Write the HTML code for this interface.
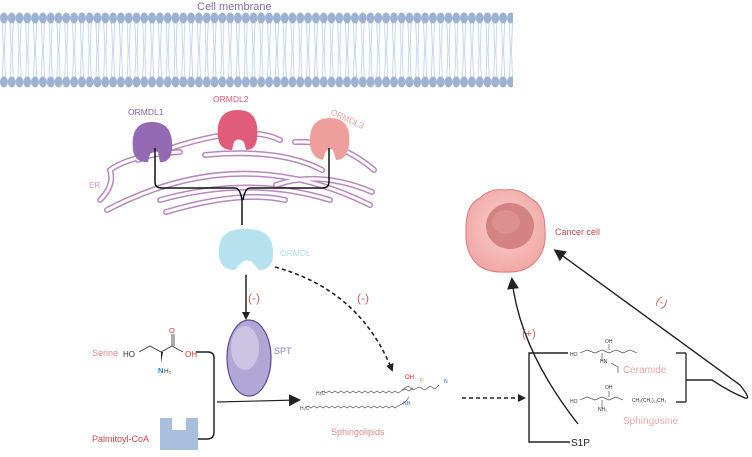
<!DOCTYPE html>
<html><head><meta charset="utf-8"><style>
html,body{margin:0;padding:0;background:#fff;}
svg{display:block;font-family:"Liberation Sans",sans-serif;}
</style></head><body>
<svg width="752" height="457" viewBox="0 0 752 457" xmlns="http://www.w3.org/2000/svg">
<defs>
<pattern id="headsT" x="0" y="12" width="7.8" height="12" patternUnits="userSpaceOnUse">
<ellipse cx="3.9" cy="6" rx="3.9" ry="5.5" fill="#9db1d2"/>
</pattern>
<pattern id="headsB" x="0" y="76" width="7.8" height="12" patternUnits="userSpaceOnUse">
<ellipse cx="3.9" cy="6" rx="3.9" ry="5.5" fill="#9db1d2"/>
</pattern>
<pattern id="tails" x="0" y="22" width="7.8" height="28" patternUnits="userSpaceOnUse">
<path d="M2.3 0 L3.4 28 M5.5 0 L4.4 28" stroke="#b9cdeb" stroke-width="0.8" fill="none"/>
</pattern>
<pattern id="tails2" x="0" y="50" width="7.8" height="28" patternUnits="userSpaceOnUse">
<path d="M3.4 0 L2.3 28 M4.4 0 L5.5 28" stroke="#b9cdeb" stroke-width="0.8" fill="none"/>
</pattern>
<marker id="ah" markerWidth="8" markerHeight="8" refX="6" refY="4" orient="auto" markerUnits="userSpaceOnUse">
<path d="M0 0 L8 4 L0 8 z" fill="#222"/>
</marker>
<marker id="ah2" markerWidth="12" markerHeight="12" refX="9" refY="6" orient="auto" markerUnits="userSpaceOnUse">
<path d="M0 0 L12 6 L0 12 z" fill="#222"/>
</marker>
<radialGradient id="cg" cx="50%" cy="45%" r="55%">
<stop offset="0" stroke="none" stop-color="#fbd0cc"/><stop offset="1" stop-color="#f1a9a6"/>
</radialGradient>
</defs>

<!-- membrane -->
<rect x="0" y="22" width="513" height="28" fill="url(#tails)"/>
<rect x="0" y="50" width="513" height="28" fill="url(#tails2)"/>
<rect x="0" y="12" width="513" height="12" fill="url(#headsT)"/>
<rect x="0" y="76" width="513" height="12" fill="url(#headsB)"/>
<text x="197" y="10" font-size="11" fill="#8a6bb0">Cell  membrane</text>

<!-- ER -->
<g fill="none" stroke-linecap="round">
<g stroke="#b988be" stroke-width="6">
<path d="M138 160 Q240 120 280 140"/>
<path d="M100 200 Q115 185 110 170 Q130 155 180 152"/>
<path d="M107 210 Q240 140 370 205"/>
<path d="M160 200 Q250 175 330 200"/>
<path d="M295 142 Q340 140 374 170"/>
<path d="M205 155 Q280 148 322 170"/>
<path d="M276 185 Q320 170 372 192"/>
<path d="M166 212 Q240 190 285 200"/>
</g>
<g stroke="#fff" stroke-width="3">
<path d="M138 160 Q240 120 280 140"/>
<path d="M100 200 Q115 185 110 170 Q130 155 180 152"/>
<path d="M107 210 Q240 140 370 205"/>
<path d="M160 200 Q250 175 330 200"/>
<path d="M295 142 Q340 140 374 170"/>
<path d="M205 155 Q280 148 322 170"/>
<path d="M276 185 Q320 170 372 192"/>
<path d="M166 212 Q240 190 285 200"/>
</g>
</g>
<text x="89" y="188" font-size="8" fill="#c99bc9">ER</text>

<!-- ORMDL proteins -->
<path d="M133 150 Q130 122 152 122 Q174 122 172 150 Q170 163 160 162 L158 152 Q153 150 150 154 L148 162 Q135 163 133 150z" fill="#936ab3"/>
<path d="M218 138 Q215 110 238 110 Q260 110 257 138 Q256 150 246 150 L244 142 Q238 137 234 142 L232 150 Q220 150 218 138z" fill="#e05c78"/>
<path d="M310 145 Q308 118 330 118 Q352 118 349 145 Q347 160 336 160 L333 150 Q328 148 325 153 L323 160 Q312 158 310 145z" fill="#ee9f9b"/>
<text x="128" y="115" font-size="8.5" fill="#8a5fb0">ORMDL1</text>
<text x="213" y="102" font-size="8.5" fill="#e05c78">ORMDL2</text>
<text x="330" y="114" font-size="8.5" fill="#ee9f9b" transform="rotate(25 330 114)">ORMDL3</text>

<!-- connectors to ORMDL -->
<path d="M155 148 L155 182 Q155 188 162 188 L235 188 Q240 188 242 200 L242 225 M329 148 L329 182 Q329 188 322 188 L250 188 Q245 188 243 200" fill="none" stroke="#111" stroke-width="1.5"/>

<!-- ORMDL cyan -->
<path d="M219 256 Q216 228 246 229 Q275 228 273 256 Q272 270 259 270 L252 262 Q247 259 242 262 L235 270 Q221 270 219 256z" fill="#b6e2ef"/>
<text x="280" y="256" font-size="8.5" fill="#a9dfea">ORMDL</text>

<!-- arrows -->
<line x1="246" y1="275" x2="246" y2="318" stroke="#222" stroke-width="1.5" marker-end="url(#ah)"/>
<text x="248" y="302" font-size="12" fill="#d06060">(-)</text>
<path d="M275 267 Q360 290 392 370" fill="none" stroke="#222" stroke-width="1.6" stroke-dasharray="4,3" marker-end="url(#ah)"/>
<text x="357" y="302" font-size="12" fill="#d06060">(-)</text>

<!-- SPT -->
<ellipse cx="249" cy="358" rx="22" ry="38" fill="#b1a7d4" stroke="#5a4a9a" stroke-width="1.2"/>
<ellipse cx="245" cy="348" rx="14" ry="22" fill="#cbc4e2"/>
<text x="274" y="354" font-size="9" fill="#8c7cc6">SPT</text>

<!-- Serine -->
<text x="92" y="356" font-size="9" fill="#e08a8a">Serine</text>
<text x="123" y="357" font-size="8" fill="#333">HO</text>
<path d="M139 352 L150 346 L161 352 L172 346 L183 352 M172 346 L172 334 M174 346 L174 334" stroke="#333" stroke-width="0.8" fill="none"/>
<path d="M161 352 L161 363 L163 352z" fill="#222"/>
<text x="169" y="333" font-size="7.5" fill="#d33">O</text>
<text x="185" y="357" font-size="8" fill="#d33">OH</text>
<text x="158" y="373" font-size="7.5" fill="#1a7fcf" font-weight="bold">N</text><text x="164" y="373" font-size="6.5" fill="#333">H₂</text>
<path d="M196 352 L208 352 Q214 352 214 358 L214 432 Q214 439 207 439 L198 439" fill="none" stroke="#222" stroke-width="1.5"/>

<!-- Palmitoyl-CoA -->
<text x="92" y="442" font-size="9" fill="#c84a4a">Palmitoyl-CoA</text>
<path d="M160 418 L172 418 L172 430 L186 430 L186 418 L198 418 L198 450 L160 450z" fill="#a9bedd"/>
<line x1="217" y1="402" x2="298" y2="400" stroke="#222" stroke-width="1.2" marker-end="url(#ah2)"/>

<!-- Sphingolipids -->
<g stroke="#444" stroke-width="0.6" fill="none">
<path d="M320 393 l3 -2 l3 2 l3 -2 l3 2 l3 -2 l3 2 l3 -2 l3 2 l3 -2 l3 2 l3 -2 l3 2 l3 -2 l3 2 l3 -2 l3 2 l3 -2 l3 2 l3 -2 l3 2 l3 -2 l3 2 l3 -2 l3 2 l3 -2 l3 2 l3 -2 l4 -2 l4 2 l4 -3"/>
<path d="M305 408 l3 -2 l3 2 l3 -2 l3 2 l3 -2 l3 2 l3 -2 l3 2 l3 -2 l3 2 l3 -2 l3 2 l3 -2 l3 2 l3 -2 l3 2 l3 -2 l3 2 l3 -2 l3 2 l3 -2 l3 2 l3 -2 l3 2 l3 -2 l3 2 l3 -2 l3 2 l3 -2 l3 2 l3 -2 l4 -2 l4 -3 l3 -4"/>
<path d="M402 390 l6 -4 l5 4 l6 -3 l6 3 l5 -4 l5 3 l4 -4"/>
</g>
<text x="316" y="395" font-size="5" fill="#444">H₃C</text>
<text x="300" y="410" font-size="5" fill="#444">H₃C</text>
<text x="405" y="379" font-size="6" fill="#d22">OH</text>
<text x="420" y="382" font-size="5.5" fill="#e69a3a">P</text>
<text x="444" y="383" font-size="5" fill="#36c">N</text>
<text x="403" y="405" font-size="5" fill="#36c">NH</text>
<text x="331" y="435" font-size="9" fill="#e08a8a">Sphingolipids</text>
<line x1="462" y1="398" x2="524" y2="398" stroke="#222" stroke-width="1.6" stroke-dasharray="4,3" marker-end="url(#ah)"/>

<!-- bracket -->
<path d="M568 353 L529 353 L529 442 L570 442" fill="none" stroke="#222" stroke-width="1.4"/>
<text x="571" y="446" font-size="10" fill="#222">S1P</text>
<path d="M578 424 Q520 350 512 280" fill="none" stroke="#222" stroke-width="1.4" marker-end="url(#ah2)"/>
<text x="522" y="337" font-size="11" fill="#d06060">(+)</text>

<!-- structures -->
<g stroke="#333" stroke-width="0.6" fill="none">
<path d="M580 353 l7 -3 l8 3 l7 -3 l7 3 l7 -3 l7 3 l7 -3 l7 3 M602 353 l0 8 M609 350 l0 -6 M611 363 l7 4 l0 6"/>
<path d="M580 400 l7 -3 l8 3 l7 -3 l7 3 l7 -3 l7 3 M602 400 l0 8 M609 397 l0 -6"/>
</g>
<text x="570" y="356" font-size="5" fill="#333">HO</text>
<text x="605" y="343" font-size="5" fill="#333">OH</text>
<text x="600" y="363" font-size="5" fill="#333">HN</text>
<text x="570" y="403" font-size="5" fill="#333">HO</text>
<text x="605" y="389" font-size="5" fill="#333">OH</text>
<text x="632" y="402" font-size="5" fill="#333">CH₂(CH₂)₁₁CH₃</text>
<text x="598" y="411" font-size="5" fill="#333">NH₂</text>
<text x="623" y="373" font-size="10" fill="#f0a8a8">Ceramide</text>
<text x="623" y="424" font-size="10" fill="#f0a8a8">Sphingosine</text>
<path d="M686 353 L686 402 M676 353 L686 353 M676 402 L686 402" fill="none" stroke="#333" stroke-width="1.4"/>
<path d="M686 380 L712 380 Q730 392 745 398 Q752 400 740 385 L556 251" fill="none" stroke="#222" stroke-width="1.4" marker-end="url(#ah2)"/>
<text x="656" y="306" font-size="11" fill="#d06060" transform="rotate(30 662 303)">(-)</text>

<!-- cancer cell -->
<path d="M466 232 Q465 205 480 198 Q490 188 505 190 Q520 188 530 198 Q545 205 545 230 Q547 250 535 262 Q525 273 505 272 Q485 273 475 262 Q465 250 466 232z" fill="url(#cg)" stroke="#d97a7a" stroke-width="1"/>
<ellipse cx="510" cy="226" rx="24" ry="23" fill="#d48282"/>
<ellipse cx="506" cy="222" rx="14" ry="12" fill="#dc9090"/>
<text x="555" y="235" font-size="9" fill="#c84a4a">Cancer  cell</text>
</svg>
</body></html>
